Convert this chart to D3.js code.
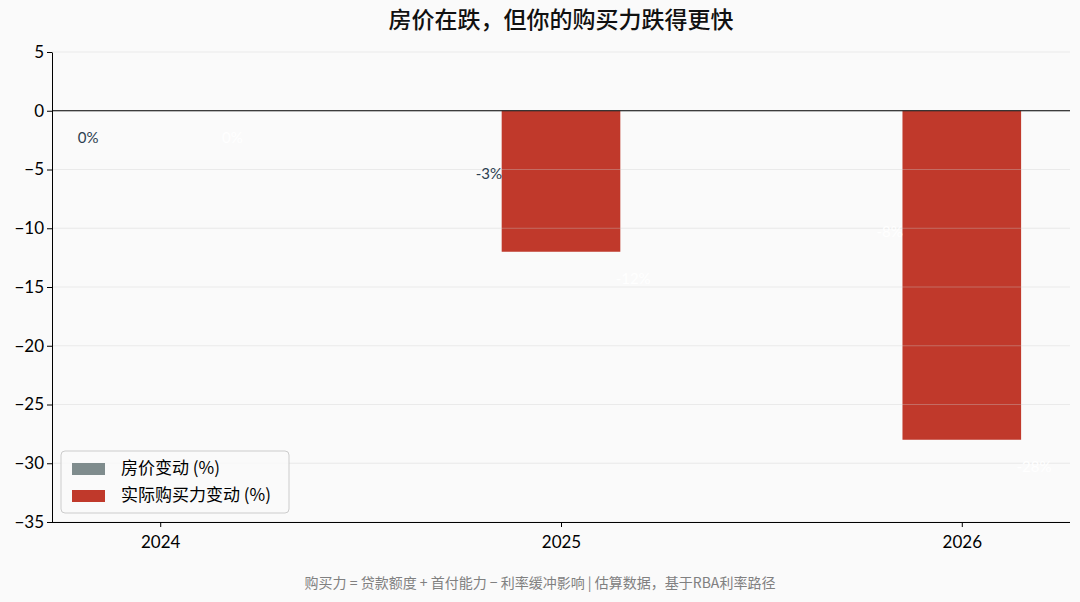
<!DOCTYPE html>
<html><head><meta charset="utf-8">
<script src="https://cdn.jsdelivr.net/npm/d3@7"></script>
<style>body{margin:0;background:#fafafa;}svg{display:block;}</style>
</head><body>
<script>
const years = ["2024","2025","2026"];
const housePrice = [0, -3, -8];
const purchasingPower = [0, -12, -28];
const yTicks = [5,0,-5,-10,-15,-20,-25,-30,-35];
const seriesNames = ["房价变动 (%)","实际购买力变动 (%)"];
const colors = ["#7f8c8d","#c0392b"];
const title = "房价在跌，但你的购买力跌得更快";
const footer = "购买力 = 贷款额度 + 首付能力 − 利率缓冲影响 | 估算数据，基于RBA利率路径";

const W=1080,H=602;
const L=52,R=1070,T=52,B=522;
const svg=d3.select("body").append("svg").attr("width",W).attr("height",H);
svg.append("rect").attr("width",W).attr("height",H).attr("fill","#fafafa");
const font="'Noto Sans CJK SC','Noto Sans',sans-serif";
const numFont="Lato,'Noto Sans',sans-serif";
const x=d3.scaleLinear().domain([-0.27,2.27]).range([L,R]);
const y=d3.scaleLinear().domain([-35,5]).range([B,T]);
const bw=0.296;

// house price bars (invisible in reference)
svg.append("g").selectAll("rect").data(housePrice).join("rect")
  .attr("x",(d,i)=>x(i-0.18-bw/2)).attr("width",x(bw)-x(0))
  .attr("y",d=>y(Math.max(0,d))).attr("height",d=>Math.abs(y(d)-y(0)))
  .attr("fill",colors[0]).attr("fill-opacity",0);
// purchasing power bars
svg.append("g").selectAll("rect").data(purchasingPower).join("rect")
  .attr("x",(d,i)=>x(i-bw/2)).attr("width",x(bw)-x(0))
  .attr("y",d=>y(Math.max(0,d))).attr("height",d=>Math.abs(y(d)-y(0)))
  .attr("fill",colors[1]);

// grid
svg.append("g").selectAll("line").data(yTicks).join("line")
  .attr("x1",L).attr("x2",R).attr("y1",d=>y(d)).attr("y2",d=>y(d))
  .attr("stroke","#cccccc").attr("stroke-opacity",0.35).attr("stroke-width",1);
// zero line
svg.append("line").attr("x1",L).attr("x2",R).attr("y1",y(0)).attr("y2",y(0)).attr("stroke","#000").attr("stroke-width",1);

// axes
const ya=svg.append("g").attr("transform",`translate(${L},0)`)
  .call(d3.axisLeft(y).tickValues(yTicks).tickSize(5).tickSizeOuter(0).tickFormat(d=>d<0?"−"+Math.abs(d):d));
ya.select(".domain").attr("stroke","#000");
ya.selectAll("text").attr("font-family",numFont).attr("font-size",17).attr("fill","#000");
const xa=svg.append("g").attr("transform",`translate(0,${B})`)
  .call(d3.axisBottom(x).tickValues([0,1,2]).tickSize(5).tickSizeOuter(0).tickFormat(i=>years[i]));
xa.select(".domain").attr("stroke","#000");
xa.selectAll("text").attr("font-family",numFont).attr("font-size",17).attr("fill","#000").attr("dy","1.05em");
xa.select(".domain").attr("d",`M${L},0.5H${R}`);

// labels
svg.append("g").selectAll("text").data(housePrice).join("text")
  .attr("x",(d,i)=>x(i-0.18)).attr("y",d=>y(d-2.45))
  .attr("text-anchor","middle").attr("dominant-baseline","middle")
  .attr("font-family",numFont).attr("font-size",15)
  .attr("fill",(d,i)=>i===2?"#ffffff":"#2c3e50").text(d=>d+"%");
svg.append("g").selectAll("text").data(purchasingPower).join("text")
  .attr("x",(d,i)=>x(i+0.18)).attr("y",d=>y(d-2.45))
  .attr("text-anchor","middle").attr("dominant-baseline","middle")
  .attr("font-family",numFont).attr("font-size",15)
  .attr("fill","#ffffff").text(d=>d+"%");

// legend
const lg=svg.append("g").attr("transform","translate(61,451)");
lg.append("rect").attr("width",228).attr("height",62).attr("rx",4).attr("fill","#fafafa").attr("fill-opacity",0.8).attr("stroke","#cccccc");
seriesNames.forEach((n,i)=>{
  lg.append("rect").attr("x",11).attr("y",12+i*27).attr("width",33).attr("height",12).attr("fill",colors[i]);
  lg.append("text").attr("x",60).attr("y",18+i*27).attr("dominant-baseline","middle")
    .attr("font-family",font).attr("font-size",17).attr("fill","#000").text(n);
});

svg.append("text").attr("x",561).attr("y",22).attr("text-anchor","middle").attr("dominant-baseline","middle")
  .attr("font-family",font).attr("font-size",23).attr("font-weight",500).attr("fill","#111").text(title);
svg.append("text").attr("x",540).attr("y",584).attr("text-anchor","middle").attr("dominant-baseline","middle")
  .attr("font-family",font).attr("font-size",14).attr("fill","#808080").text(footer);
</script>
</body></html>
